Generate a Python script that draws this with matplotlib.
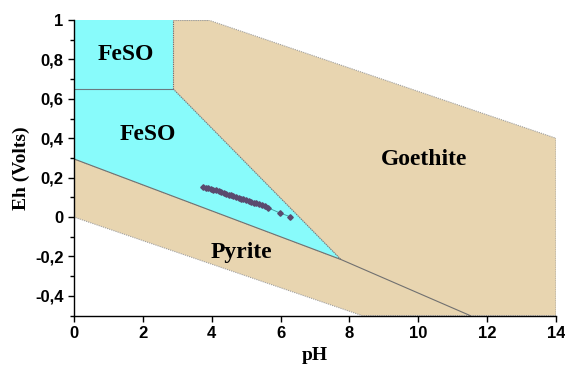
import matplotlib.pyplot as plt
from matplotlib.ticker import FuncFormatter, MultipleLocator

# field boundaries (pH, Eh)
feso_top_x = [0, 0, 2.88, 2.88]
feso_top_y = [0.65, 1.0, 1.0, 0.65]
feso_low_x = [0, 0, 2.88, 7.75]
feso_low_y = [0.295, 0.65, 0.65, -0.215]
tan_x = [0, 0, 7.75, 2.88, 2.88, 3.9, 14, 14, 8.37]
tan_y = [0.0, 0.295, -0.215, 0.65, 1.0, 1.0, 0.40, -0.5, -0.5]
pyrite_x = [0, 7.75, 11.51]
pyrite_y = [0.295, -0.215, -0.5]

# measured samples
ph = [3.76, 3.82, 3.9, 3.97, 4.05, 4.12, 4.2, 4.28, 4.35, 4.42, 4.5, 4.57,
      4.63, 4.7, 4.78, 4.85, 4.92, 5.0, 5.08, 5.15, 5.22, 5.3, 5.38, 5.46,
      5.55, 5.64, 5.99, 6.28]
eh = [0.155, 0.150, 0.148, 0.143, 0.138, 0.136, 0.131, 0.127, 0.121, 0.119,
      0.113, 0.110, 0.106, 0.102, 0.098, 0.094, 0.090, 0.086, 0.082, 0.078,
      0.073, 0.069, 0.064, 0.060, 0.054, 0.047, 0.020, 0.002]

cyan = "#88fbfb"
tan = "#e8d5b0"

fig = plt.figure(figsize=(5.65, 3.67), dpi=100)
ax = fig.add_axes([0.131, 0.140, 0.853, 0.8055])

ax.fill(tan_x, tan_y, color=tan, ec="#a0a0a0", lw=0.8, ls=(0, (1, 1)))
ax.fill(feso_low_x, feso_low_y, color=cyan, lw=0)
ax.fill(feso_top_x, feso_top_y, color=cyan, lw=0)
ax.plot([2.88, 7.75], [0.65, -0.215], color="#707070", lw=0.8, ls=(0, (1, 1)))
ax.plot([2.88, 2.88], [0.65, 1.0], color="#707070", lw=0.8, ls=(0, (1, 1)))
ax.plot([2.88, 3.9], [1.0, 1.0], color="#a0a0a0", lw=0.8, ls=(0, (1, 1)))
ax.plot([0, 2.88], [0.65, 0.65], color="#6a7a80", lw=0.8)
ax.plot(pyrite_x, pyrite_y, color="#707070", lw=0.8)

ax.plot(ph, eh, color="#3a9a9a", lw=0.6, zorder=3)
ax.plot(ph, eh, ls="none", marker="D", ms=2.8, color="#5a4a6e", zorder=4)

lbl = dict(family="Liberation Serif", weight="bold", fontsize=17, ha="center", va="center")
ax.text(1.51, 0.825, "FeSO", **lbl)
ax.text(2.15, 0.42, "FeSO", **lbl)
ax.text(10.17, 0.29, "Goethite", **lbl)
ax.text(4.85, -0.178, "Pyrite", **lbl)

ax.set_xlim(0, 14)
ax.set_ylim(-0.5, 1.0)
ax.xaxis.set_major_locator(MultipleLocator(2))
ax.yaxis.set_major_locator(MultipleLocator(0.2))
ax.yaxis.set_minor_locator(MultipleLocator(0.1))
ax.yaxis.set_major_formatter(FuncFormatter(
    lambda v, p: "0" if abs(v) < 1e-9 else ("1" if abs(v - 1) < 1e-9 else f"{v:.1f}".replace(".", ","))))
for s in ["top", "right"]:
    ax.spines[s].set_visible(False)
ax.spines["left"].set_linewidth(1.0)
ax.spines["bottom"].set_linewidth(1.0)
ax.tick_params(direction="out", length=4, width=1.0)
ax.tick_params(which="minor", direction="out", length=3, width=1.0)
for t in ax.get_xticklabels() + ax.get_yticklabels():
    t.set_fontfamily("Liberation Sans")
    t.set_fontweight("bold")
    t.set_fontsize(12)

ax.set_xlabel("pH", family="Liberation Serif", weight="bold", fontsize=14, labelpad=4)
ax.set_ylabel("Eh (Volts)", family="Liberation Serif", weight="bold", fontsize=14, labelpad=4)

fig.savefig("out.png", dpi=100)
